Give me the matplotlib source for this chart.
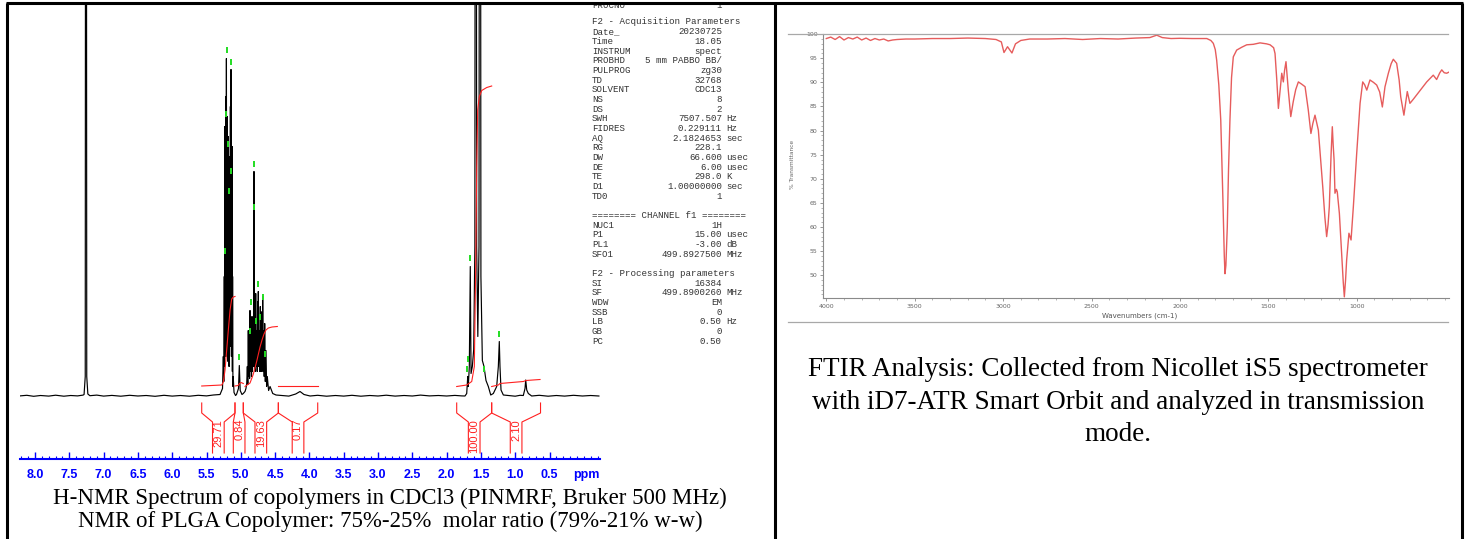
import matplotlib
matplotlib.use("Agg")
import matplotlib.pyplot as plt
from matplotlib.lines import Line2D
from matplotlib.ticker import MultipleLocator

W, H = 1465, 539

# 1H NMR trace, split in segments: chemical shift (ppm) / intensity above baseline
arom_ppm = [8.22, 8.12, 8.02, 7.92, 7.80, 7.70, 7.58, 7.48, 7.38, 7.30,
            7.285, 7.268, 7.257, 7.246, 7.23, 7.20, 7.10, 7.00, 6.88, 6.75,
            6.62, 6.50, 6.38, 6.25, 6.12, 6.00, 5.88, 5.75, 5.62, 5.50, 5.40]
arom_int = [0.6, 1.2, 0.2, 1.0, 0.4, 1.3, 0.3, 1.0, 0.6, 1.4,
            2, 20, 1500, 20, 2.5, 0.8, 1.4, 0.4, 1.1, 0.3,
            1.2, 0.5, 1.0, 0.2, 1.2, 0.4, 1.0, 0.3, 1.2, 0.6, 1.5]

lact_ppm = [5.303, 5.267, 5.255, 5.248, 5.241, 5.237, 5.233, 5.229, 5.226, 5.222,
            5.219, 5.215, 5.210, 5.206, 5.203, 5.200, 5.197, 5.193, 5.190, 5.186,
            5.182, 5.178, 5.175, 5.171, 5.168, 5.164, 5.160, 5.156, 5.152, 5.148,
            5.143, 5.138, 5.134, 5.130, 5.127, 5.123, 5.120, 5.115, 5.111, 5.099,
            5.077, 5.063, 5.034, 5.022, 5.009, 4.983]
lact_int = [2, 8, 40, 15, 120, 30, 270, 40, 180, 50,
            300, 60, 338, 50, 200, 40, 280, 45, 150, 35,
            260, 40, 130, 30, 240, 40, 160, 50, 290, 60,
            327, 50, 220, 40, 250, 25, 120, 10, 20, 4,
            1, 2, 8, 31, 6, 2]

glyc_ppm = [4.964, 4.939, 4.925, 4.914, 4.905, 4.898, 4.891, 4.885, 4.878, 4.872,
            4.866, 4.858, 4.851, 4.844, 4.837, 4.830, 4.822, 4.815, 4.808, 4.802,
            4.797, 4.790, 4.783, 4.776, 4.768, 4.761, 4.755, 4.750, 4.745, 4.738,
            4.730, 4.723, 4.716, 4.709, 4.701, 4.695, 4.690, 4.685, 4.681, 4.673,
            4.666, 4.659, 4.652, 4.643, 4.633, 4.624, 4.614, 4.595, 4.574, 4.535,
            4.487]
glyc_int = [3, 5, 8, 13, 30, 12, 66, 20, 42, 18,
            86, 25, 50, 20, 80, 25, 60, 30, 225, 30,
            66, 25, 103, 30, 66, 25, 95, 35, 105, 30,
            66, 25, 90, 25, 60, 25, 85, 30, 100, 25,
            66, 20, 73, 15, 46, 10, 20, 6, 10, 3,
            1.5]

mid_ppm = [4.40, 4.30, 4.20, 4.137, 4.079, 3.99, 3.88, 3.75, 3.62, 3.50,
           3.38, 3.25, 3.12, 3.00, 2.88, 2.75, 2.62, 2.50, 2.38, 2.25,
           2.12, 2.00, 1.88, 1.78]
mid_int = [1.0, 0.4, 2.5, 5, 2, 0.5, 1.2, 0.3, 1.0, 0.4,
           1.2, 0.3, 1.0, 0.5, 1.3, 0.4, 1.0, 0.5, 1.4, 0.6,
           1.0, 0.5, 1.1, 0.6]

methyl_ppm = [1.732, 1.707, 1.692, 1.684, 1.669, 1.655, 1.644, 1.625, 1.605, 1.588,
              1.576, 1.562, 1.545, 1.528, 1.513, 1.500, 1.479, 1.455, 1.426, 1.392,
              1.357, 1.319, 1.270, 1.246, 1.232, 1.222, 1.207, 1.173, 1.10, 1.00,
              0.93, 0.882, 0.857, 0.847, 0.832, 0.809, 0.760]
methyl_int = [0.5, 3, 20, 10, 30, 130, 23, 30, 47, 150,
              1500, 150, 60, 150, 1400, 120, 36, 30, 16, 10,
              1.5, 3, 10, 30, 55, 30, 6.5, 1.5, 1.0, 0.3,
              1.2, 1, 8, 16.5, 6.5, 3, 0.5]

tail_ppm = [0.65, 0.52, 0.40, 0.28, 0.15, 0.02, -0.10, -0.22]
tail_int = [1.2, 0.3, 1.0, 0.4, 1.2, 0.5, 1.0, 0.5]

# peak picking marks
pick_ppm = [5.206, 5.143, 5.216, 5.182, 5.143, 5.172, 5.235, 5.026, 4.812, 4.803,
            4.851, 4.745, 4.681, 4.866, 4.778, 4.720, 4.647, 1.659, 1.692, 1.698,
            1.455, 1.232]
pick_int = [347, 335, 283, 253, 226, 206, 146, 40, 233, 190,
            95, 113, 100, 66, 76, 80, 43, 139, 38, 28,
            28, 63]

# integrals
int_labels = ["29.71", "0.84", "19.63", "0.17", "100.00", "2.10"]
int_start = [5.570, 5.085, 4.964, 4.453, 1.853, 1.343]
int_end = [5.085, 4.964, 4.453, 3.879, 1.343, 0.631]

int1_ppm = [5.570, 5.278, 5.255, 5.230, 5.206, 5.182, 5.157, 5.133, 5.109, 5.085]
int1_val = [10.5, 11.5, 14.5, 26.5, 46.5, 66.5, 86.5, 97.5, 99.5, 100]
int2_ppm = [5.085, 5.041, 5.019, 4.997, 4.964]
int2_val = [10.5, 11, 13, 14, 13]
int3_ppm = [4.939, 4.866, 4.822, 4.793, 4.764, 4.720, 4.691, 4.662, 4.633, 4.599, 4.545, 4.468]
int3_val = [10, 13.5, 21.5, 28.5, 36.5, 49.5, 56.5, 62.5, 66.5, 68.5, 69.5, 70]
int4_ppm = [4.453, 3.879]
int4_val = [10.5, 10.5]
int5_ppm = [1.853, 1.707, 1.634, 1.596, 1.576, 1.561, 1.547, 1.523, 1.488, 1.415, 1.343]
int5_val = [10, 11.5, 15, 30, 130, 230, 286.5, 300, 306, 309, 310.5]
int6_ppm = [1.343, 1.246, 1.222, 0.882, 0.843, 0.638]
int6_val = [10, 11.5, 13, 15, 16, 17]

nmr_ticks = [8.0, 7.5, 7.0, 6.5, 6.0, 5.5, 5.0, 4.5, 4.0, 3.5, 3.0, 2.5, 2.0, 1.5, 1.0, 0.5]

# acquisition / processing parameters (label, value, unit); value None = heading
params = [
    ("F2 - Acquisition Parameters", None, None),
    ("Date_", "20230725", ""),
    ("Time", "18.05", ""),
    ("INSTRUM", "spect", ""),
    ("PROBHD", "5 mm PABBO BB/", ""),
    ("PULPROG", "zg30", ""),
    ("TD", "32768", ""),
    ("SOLVENT", "CDC13", ""),
    ("NS", "8", ""),
    ("DS", "2", ""),
    ("SWH", "7507.507", "Hz"),
    ("FIDRES", "0.229111", "Hz"),
    ("AQ", "2.1824653", "sec"),
    ("RG", "228.1", ""),
    ("DW", "66.600", "usec"),
    ("DE", "6.00", "usec"),
    ("TE", "298.0", "K"),
    ("D1", "1.00000000", "sec"),
    ("TD0", "1", ""),
    ("", "", ""),
    ("======== CHANNEL f1 ========", None, None),
    ("NUC1", "1H", ""),
    ("P1", "15.00", "usec"),
    ("PL1", "-3.00", "dB"),
    ("SFO1", "499.8927500", "MHz"),
    ("", "", ""),
    ("F2 - Processing parameters", None, None),
    ("SI", "16384", ""),
    ("SF", "499.8900260", "MHz"),
    ("WDW", "EM", ""),
    ("SSB", "0", ""),
    ("LB", "0.50", "Hz"),
    ("GB", "0", ""),
    ("PC", "0.50", ""),
]

# FTIR trace: wavenumber (cm-1) and % transmittance
ftir_wn = [4000, 3975, 3950, 3925, 3900, 3875, 3850, 3825, 3800, 3775,
           3750, 3725, 3700, 3675, 3650, 3625, 3600, 3550, 3500, 3400,
           3300, 3200, 3100, 3040, 3010, 2995, 2975, 2950, 2930, 2900,
           2850, 2750, 2650, 2550, 2450, 2350, 2250, 2170, 2131, 2100,
           2050, 2000, 1930, 1848, 1825, 1811, 1800, 1792, 1780, 1769,
           1757, 1749, 1745, 1740, 1732, 1725, 1717, 1708, 1698, 1679,
           1650, 1622, 1585, 1547, 1510, 1490, 1470, 1462, 1452, 1443,
           1433, 1424, 1415, 1408, 1400, 1387, 1373, 1359, 1345, 1330,
           1310, 1292, 1274, 1259, 1248, 1236, 1217, 1205, 1192, 1180,
           1170, 1162, 1155, 1145, 1138, 1133, 1128, 1123, 1115, 1110,
           1098, 1085, 1076, 1070, 1063, 1057, 1044, 1038, 1032, 1019,
           1000, 981, 966, 955, 943, 925, 905, 887, 870, 855,
           840, 821, 805, 793, 774, 760, 751, 733, 714, 699,
           680, 661, 635, 604, 580, 567, 548, 530, 519, 505,
           491, 480]
ftir_t = [99.1, 99.4, 98.9, 99.5, 98.8, 99.3, 99.0, 99.4, 98.8, 99.2,
          98.7, 99.1, 98.8, 99.0, 98.6, 98.8, 98.9, 99.0, 99.0, 99.1,
          99.1, 99.2, 99.1, 98.9, 98.4, 96.2, 97.4, 96.1, 98.0, 98.7,
          99.0, 99.0, 99.1, 98.9, 99.1, 99.0, 99.2, 99.3, 99.8, 99.3,
          99.1, 99.15, 99.1, 99.1, 98.7, 98.1, 96.8, 94.6, 89.5, 82.2,
          66.0, 54.0, 50.3, 52.0, 60.0, 72.0, 82.2, 91.0, 95.3, 96.7,
          97.3, 97.8, 97.9, 98.2, 98.0, 97.8, 97.2, 96.0, 90.5, 84.6,
          88.5, 91.9, 90.1, 92.5, 94.3, 88.4, 82.9, 86.0, 88.5, 90.1,
          89.6, 89.1, 84.3, 79.4, 81.5, 83.2, 80.1, 74.5, 68.3, 62.0,
          58.0, 60.5, 64.2, 75.0, 80.8, 77.0, 73.9, 67.0, 67.8, 67.3,
          62.8, 54.5, 48.5, 45.5, 49.0, 53.1, 58.7, 58.0, 57.3, 64.2,
          75.3, 85.65, 90.1, 89.5, 88.4, 90.5, 90.0, 89.45, 88.0, 84.9,
          89.1, 91.9, 93.9, 94.8, 93.95, 90.5, 87.0, 83.2, 88.1, 85.65,
          86.5, 87.4, 88.6, 90.1, 91.0, 91.5, 90.6, 92.0, 92.6, 92.0,
          91.9, 92.1]

nmr_caption = ["H-NMR Spectrum of copolymers in CDCl3 (PINMRF, Bruker 500 MHz)",
               "NMR of PLGA Copolymer: 75%-25%  molar ratio (79%-21% w-w)"]
ftir_caption = ["FTIR Analysis: Collected from Nicollet iS5 spectrometer",
                "with iD7-ATR Smart Orbit and analyzed in transmission",
                "mode."]


def px_box(x0, y0, x1, y1):
    return [x0 / W, 1 - y1 / H, (x1 - x0) / W, (y1 - y0) / H]


def fx(x):
    return x / W


def fy(y):
    return 1 - y / H


fig = plt.figure(figsize=(W / 100, H / 100), dpi=100)
fig.patch.set_facecolor("white")

red = "#ff2020"
blue = "#0000ff"

# ---------------- NMR panel ----------------
nmr_ppm = arom_ppm + lact_ppm + glyc_ppm + mid_ppm + methyl_ppm + tail_ppm
nmr_int = arom_int + lact_int + glyc_int + mid_int + methyl_int + tail_int

ax = fig.add_axes(px_box(20, 4, 600, 459))
ax.plot(nmr_ppm, nmr_int, color="black", lw=0.85)
ax.vlines(pick_ppm, [v - 3 for v in pick_int], [v + 3 for v in pick_int],
          color="#22dd22", lw=1.4)

curves = [(int1_ppm, int1_val), (int2_ppm, int2_val), (int3_ppm, int3_val),
          (int4_ppm, int4_val), (int5_ppm, int5_val), (int6_ppm, int6_val)]
for cx, cy in curves:
    ax.plot(cx, cy, color=red, lw=0.8)

gap = 0.085
for lab, a, b in zip(int_labels, int_start, int_end):
    c = (a + b) / 2
    for edge, inner in ((a, c + gap), (b, c - gap)):
        ax.plot([edge, edge, inner, inner], [-6.5, -16.5, -25.5, -56.5],
                color=red, lw=0.8, clip_on=False)
    ax.text(c, -22.5, lab, rotation=90, ha="center", va="top", color=red,
            fontsize=8, family="Liberation Sans")

ax.set_xlim(8.219, -0.236)
ax.set_ylim(-62.5, 392.5)
for s in ["top", "left", "right"]:
    ax.spines[s].set_visible(False)
ax.spines["bottom"].set_color(blue)
ax.spines["bottom"].set_linewidth(1.5)
ax.set_yticks([])
ax.set_xticks(nmr_ticks)
ax.set_xticklabels(["%.1f" % t for t in nmr_ticks])
ax.xaxis.set_minor_locator(MultipleLocator(0.1))
ax.tick_params(axis="x", which="major", direction="in", length=5, width=1,
               color=blue, labelcolor=blue, pad=7, labelsize=9)
ax.tick_params(axis="x", which="minor", direction="in", length=2.5, width=0.8,
               color=blue)
for t in ax.get_xticklabels():
    t.set_fontweight("bold")
    t.set_family("Liberation Sans")
ax.text(-0.03, -78.5, "ppm", color=blue, fontsize=9, fontweight="bold",
        family="Liberation Sans", ha="center", va="center")

# parameter listing
kw = dict(family="Liberation Mono", fontsize=6.6, color="#333333", va="center")
fig.text(fx(592), fy(5), "PROCNO", ha="left", **kw)
fig.text(fx(722), fy(5), "1", ha="right", **kw)
for i, (lab, val, unit) in enumerate(params):
    y = fy(22 + i * 9.67)
    fig.text(fx(592), y, lab, ha="left", **kw)
    if val:
        fig.text(fx(722), y, val, ha="right", **kw)
    if unit:
        fig.text(fx(726), y, unit, ha="left", **kw)

for i, line in enumerate(nmr_caption):
    fig.text(fx(390), fy(504 + i * 23.5), line, ha="center", va="baseline",
             family="Liberation Serif", fontsize=16.5)

# ---------------- FTIR panel ----------------
ax2 = fig.add_axes(px_box(823.3, 34.2, 1449, 298.3))
ax2.plot(ftir_wn, ftir_t, color="#e65c5c", lw=1.0)
ax2.set_xlim(4017, 478)
ax2.set_ylim(45.2, 100)
for s in ["top", "right"]:
    ax2.spines[s].set_visible(False)
for s in ["left", "bottom"]:
    ax2.spines[s].set_color("#8a8a8a")
    ax2.spines[s].set_linewidth(0.8)
ax2.set_yticks(range(50, 101, 5))
ax2.yaxis.set_minor_locator(MultipleLocator(1))
ax2.set_xticks([4000, 3500, 3000, 2500, 2000, 1500, 1000])
ax2.xaxis.set_minor_locator(MultipleLocator(100))
ax2.tick_params(which="major", direction="out", length=2.5, width=0.6,
                color="#888888", labelcolor="#666666", labelsize=4.5, pad=1.5)
ax2.tick_params(which="minor", direction="out", length=1.5, width=0.5,
                color="#999999")
ax2.set_ylabel("% Transmittance", fontsize=4.2, color="#666666")
ax2.yaxis.set_label_coords(-0.045, 0.505)
ax2.set_xlabel("Wavenumbers (cm-1)", fontsize=5, color="#555555")
ax2.xaxis.set_label_coords(0.506, -0.067)
ax2.xaxis.label.set_va("center")

for y in (34, 321.7):
    fig.add_artist(Line2D([fx(788), fx(1448)], [fy(y), fy(y)],
                          color="#a8a8a8", lw=0.9))

for i, line in enumerate(ftir_caption):
    fig.text(fx(1118), fy(376.5 + i * 32.1), line, ha="center", va="baseline",
             family="Liberation Serif", fontsize=19.5)

# ---------------- table borders ----------------
border = dict(color="black", lw=2.2, zorder=10, solid_capstyle="butt")
fig.add_artist(Line2D([fx(5.5), fx(1463)], [fy(3), fy(3)], **border))
for x in (7, 774.5, 1461.5):
    fig.add_artist(Line2D([fx(x), fx(x)], [fy(3), fy(539)], **border))

fig.savefig("out.png", dpi=100, facecolor="white")
